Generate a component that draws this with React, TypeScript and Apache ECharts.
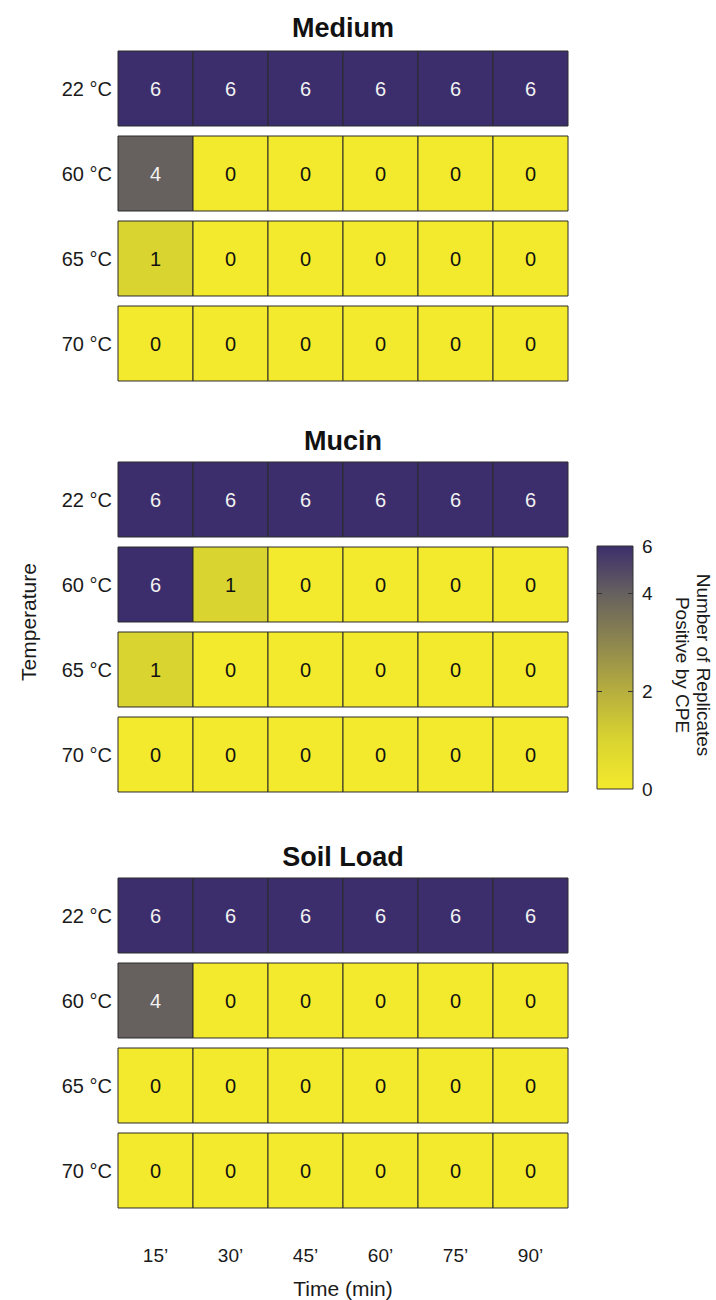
import React, { useEffect, useRef } from "react";
import * as echarts from "echarts";

const times = ["15’", "30’", "45’", "60’", "75’", "90’"];
const temperatures = ["22 °C", "60 °C", "65 °C", "70 °C"];
const panelTitles = ["Medium", "Mucin", "Soil Load"];
const mediumValues = [
  [6, 6, 6, 6, 6, 6],
  [4, 0, 0, 0, 0, 0],
  [1, 0, 0, 0, 0, 0],
  [0, 0, 0, 0, 0, 0],
];
const mucinValues = [
  [6, 6, 6, 6, 6, 6],
  [6, 1, 0, 0, 0, 0],
  [1, 0, 0, 0, 0, 0],
  [0, 0, 0, 0, 0, 0],
];
const soilValues = [
  [6, 6, 6, 6, 6, 6],
  [4, 0, 0, 0, 0, 0],
  [0, 0, 0, 0, 0, 0],
  [0, 0, 0, 0, 0, 0],
];
const colorbarTicks = [0, 2, 4];
const colorbarInnerTicks = [2, 4];
const colorbarTopLabel = "6";
const colorbarMax = 4.96;
const colorStops = ["#f3ea2d", "#d9d430", "#b6ae3e", "#8d864f", "#66605f", "#3c2e6c", "#3c2e6c"];

const FONT = '"Liberation Sans", Arial, Helvetica, sans-serif';
const GRID_LEFT = 118;
const GRID_WIDTH = 450;
const GRID_HEIGHT = 340;
const GRID_TOPS = [46, 457, 873];
const CB = { left: 597, top: 546, width: 36, height: 243 };

export default function App() {
  const ref = useRef<HTMLDivElement>(null);

  useEffect(() => {
    document.body.style.margin = "0";
    if (!ref.current) return;
    const chart = echarts.init(ref.current, null, { renderer: "svg" });

    const panels = [mediumValues, mucinValues, soilValues];

    const renderCell = (params: any, api: any) => {
      const v = api.value(2);
      const c = api.coord([api.value(0), api.value(1)]);
      const s = api.size([1, 1]);
      const w = s[0];
      const h = s[1] * 0.882;
      return {
        type: "group",
        children: [
          {
            type: "rect",
            shape: { x: c[0] - w / 2, y: c[1] - h / 2, width: w, height: h },
            style: { fill: api.visual("color"), stroke: "#2b2b2b", lineWidth: 1 },
          },
          {
            type: "text",
            x: c[0],
            y: c[1],
            style: {
              text: String(v),
              fill: v >= 3 ? "#f2f2f2" : "#111111",
              font: `20px ${FONT}`,
              align: "center",
              verticalAlign: "middle",
            },
          },
        ],
      };
    };

    const grids: any[] = GRID_TOPS.map((t) => ({
      left: GRID_LEFT,
      top: t,
      width: GRID_WIDTH,
      height: GRID_HEIGHT,
    }));
    grids.push({ ...CB });

    const xAxes: any[] = panels.map((_, i) => ({
      type: "category",
      gridIndex: i,
      data: times,
      show: i === 2,
      axisLine: { show: false },
      axisTick: { show: false },
      axisLabel: { margin: 33, fontSize: 19, color: "#1a1a1a", fontFamily: FONT },
      name: i === 2 ? "Time (min)" : "",
      nameLocation: "middle",
      nameGap: 65,
      nameTextStyle: { fontSize: 21, color: "#1a1a1a", fontFamily: FONT },
    }));
    xAxes.push({ type: "value", gridIndex: 3, show: false, min: 0, max: 1 });

    const yAxes: any[] = panels.map((_, i) => ({
      type: "category",
      gridIndex: i,
      data: temperatures,
      inverse: true,
      axisLine: { show: false },
      axisTick: { show: false },
      axisLabel: { margin: 6, fontSize: 20, color: "#1a1a1a", fontFamily: FONT },
    }));
    yAxes.push({
      type: "value",
      gridIndex: 3,
      position: "right",
      min: 0,
      max: colorbarMax,
      interval: 2,
      splitLine: { show: false },
      axisLine: { show: false },
      axisTick: { show: false },
      axisLabel: {
        margin: 9,
        fontSize: 19,
        color: "#1a1a1a",
        fontFamily: FONT,
        formatter: (v: number) =>
          colorbarTicks.includes(v) ? String(v) : v >= colorbarMax - 0.01 ? colorbarTopLabel : "",
      },
    });

    const series: any[] = panels.map((vals, i) => {
      const data: number[][] = [];
      vals.forEach((row, r) => row.forEach((v, c) => data.push([c, r, v])));
      return {
        type: "custom",
        xAxisIndex: i,
        yAxisIndex: i,
        renderItem: renderCell,
        data,
        encode: { x: 0, y: 1 },
      };
    });

    const gradStops = colorStops
      .slice(0, 6)
      .map((col, k) => ({
        offset: Math.min(1, Math.max(0, 1 - Math.min(k, colorbarMax) / colorbarMax)),
        color: col,
      }))
      .sort((a, b) => a.offset - b.offset);

    const graphic: any[] = panelTitles.map((t, i) => ({
      type: "text",
      x: GRID_LEFT + GRID_WIDTH / 2,
      y: [28, 441, 857][i],
      style: {
        text: t,
        font: `bold 27px ${FONT}`,
        fill: "#111",
        align: "center",
        verticalAlign: "middle",
      },
    }));
    graphic.push({
      type: "text",
      x: 28,
      y: 622,
      rotation: Math.PI / 2,
      style: {
        text: "Temperature",
        font: `21px ${FONT}`,
        fill: "#1a1a1a",
        align: "center",
        verticalAlign: "middle",
      },
    });
    graphic.push({
      type: "rect",
      z: 1,
      shape: { x: CB.left, y: CB.top, width: CB.width, height: CB.height },
      style: {
        fill: new echarts.graphic.LinearGradient(0, 0, 0, 1, gradStops),
        stroke: "#333",
        lineWidth: 1,
      },
    });
    graphic.push({
      type: "text",
      x: 693,
      y: 665,
      rotation: -Math.PI / 2,
      style: {
        text: "Number of Replicates\nPositive by CPE",
        font: `19px ${FONT}`,
        lineHeight: 21,
        fill: "#1a1a1a",
        align: "center",
        verticalAlign: "middle",
      },
    });

    const option: any = {
      animation: false,
      backgroundColor: "#ffffff",
      grid: grids,
      xAxis: xAxes,
      yAxis: yAxes,
      visualMap: {
        type: "continuous",
        show: false,
        min: 0,
        max: 6,
        dimension: 2,
        seriesIndex: [0, 1, 2],
        inRange: { color: colorStops },
      },
      series,
      graphic,
    };
    chart.setOption(option);

    // colorbar tick marks placed through the colorbar axis scale
    const tickMarks: any[] = [];
    colorbarInnerTicks.forEach((v) => {
      const y = Math.round(chart.convertToPixel({ yAxisIndex: 3 }, v) as number) + 0.5;
      tickMarks.push({
        type: "line",
        z: 10,
        shape: { x1: CB.left, y1: y, x2: CB.left + 5, y2: y },
        style: { stroke: "#333", lineWidth: 1 },
      });
      tickMarks.push({
        type: "line",
        z: 10,
        shape: { x1: CB.left + CB.width - 5, y1: y, x2: CB.left + CB.width, y2: y },
        style: { stroke: "#333", lineWidth: 1 },
      });
    });
    chart.setOption({ graphic: [...graphic, ...tickMarks] });

    return () => chart.dispose();
  }, []);

  return <div ref={ref} style={{ width: 716, height: 1300 }} />;
}
